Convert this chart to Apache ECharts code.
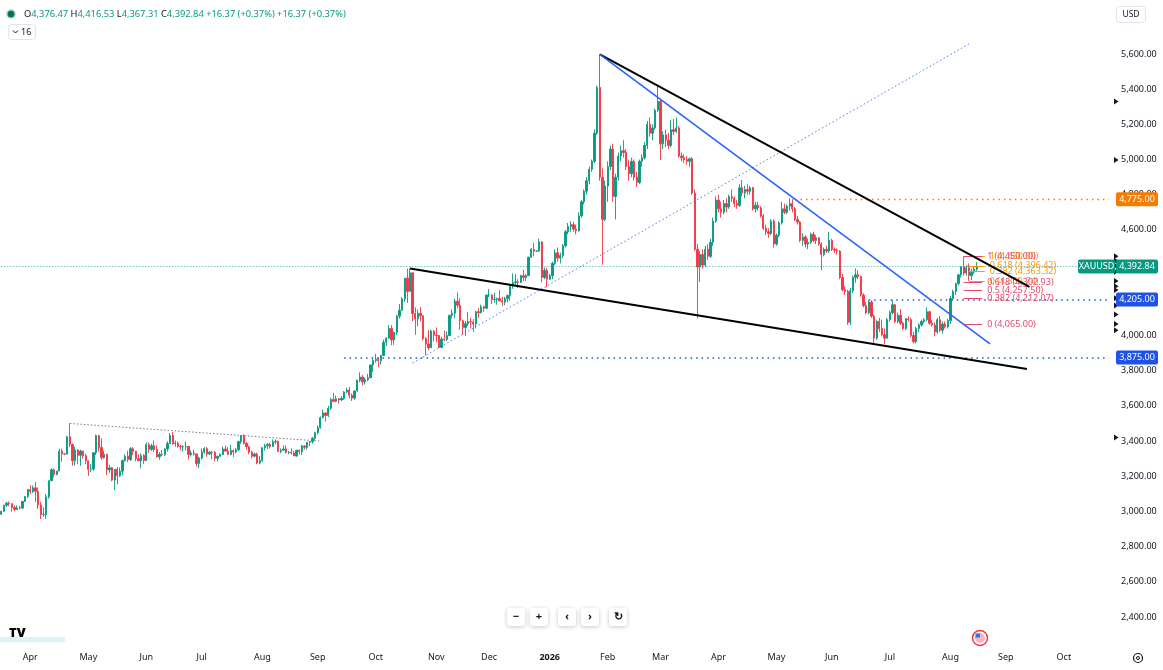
<!DOCTYPE html>
<html><head><meta charset="utf-8">
<script src="https://cdn.jsdelivr.net/npm/echarts@6/dist/echarts.min.js"></script>
<style>html,body{margin:0;padding:0;background:#fff;overflow:hidden}#c{width:1163px;height:670px}</style>
</head><body><div id="c"></div><script>
// ---------- DATA ----------
const startDate = '2025-03-17';
const axisEndDate = '2026-10-26';
const monthNames = ['Jan','Feb','Mar','Apr','May','Jun','Jul','Aug','Sep','Oct','Nov','Dec'];
const yTicks = {min: 2200, max: 5800, step: 200};
// daily candles [open, high, low, close], 2025-03-17 .. 2025-12-31
const candles2025 = [
[2984,3004,2982,3001],[3001,3038,2999,3035],[3035,3055,3026,3047],[3047,3057,3030,3044],[3044,3047,2999,3023],
[3023,3033,3002,3011],[3011,3035,3008,3020],[3020,3033,3012,3019],[3019,3059,3014,3057],[3057,3087,3055,3085],
[3085,3128,3076,3124],[3124,3149,3100,3113],[3113,3148,3105,3134],[3134,3168,3054,3114],[3114,3136,3015,3037],
[3037,3055,2957,2982],[2982,3023,2970,2983],[2983,3099,2957,3083],[3083,3176,3072,3175],[3175,3245,3172,3237],
[3237,3245,3194,3211],[3211,3230,3205,3230],[3230,3357,3228,3343],[3343,3357,3283,3327],[3327,3330,3320,3326],
[3326,3430,3324,3424],[3424,3500,3366,3381],[3381,3386,3260,3288],[3288,3367,3260,3349],[3349,3353,3268,3319],
[3319,3351,3260,3343],[3343,3345,3300,3317],[3317,3328,3268,3288],[3288,3290,3202,3239],[3239,3269,3223,3241],
[3241,3336,3230,3334],[3334,3437,3320,3431],[3431,3435,3340,3364],[3364,3415,3293,3306],[3306,3345,3300,3325],
[3325,3327,3208,3236],[3236,3265,3219,3248],[3248,3252,3171,3178],[3178,3240,3121,3240],[3240,3252,3154,3203],
[3203,3250,3196,3229],[3229,3295,3206,3289],[3289,3325,3283,3314],[3314,3345,3280,3295],[3295,3366,3287,3357],
[3357,3365,3321,3342],[3342,3345,3285,3300],[3300,3325,3287,3288],[3288,3330,3245,3318],[3318,3326,3271,3289],
[3289,3392,3287,3380],[3380,3392,3333,3353],[3353,3385,3343,3373],[3373,3403,3339,3352],[3352,3375,3306,3310],
[3310,3338,3293,3325],[3325,3349,3315,3322],[3322,3360,3315,3355],[3355,3399,3340,3386],[3386,3446,3384,3432],
[3432,3452,3380,3384],[3384,3403,3367,3388],[3388,3397,3362,3370],[3370,3379,3347,3368],[3368,3376,3340,3368],
[3368,3398,3347,3369],[3369,3370,3295,3323],[3323,3347,3312,3332],[3332,3350,3317,3327],[3327,3329,3255,3273],
[3273,3310,3247,3303],[3303,3358,3296,3338],[3338,3365,3328,3357],[3357,3366,3311,3326],[3326,3343,3322,3337],
[3337,3344,3296,3336],[3336,3345,3287,3302],[3302,3317,3283,3313],[3313,3330,3310,3324],[3324,3369,3322,3355],
[3355,3375,3341,3343],[3343,3366,3320,3324],[3324,3377,3319,3347],[3347,3352,3310,3338],[3338,3361,3330,3350],
[3350,3402,3345,3397],[3397,3433,3383,3431],[3431,3438,3381,3387],[3387,3393,3351,3368],[3368,3373,3325,3337],
[3337,3345,3301,3314],[3314,3334,3308,3326],[3326,3334,3268,3275],[3275,3315,3268,3289],[3289,3363,3281,3363],
[3363,3385,3346,3373],[3373,3390,3354,3381],[3381,3390,3358,3369],[3369,3409,3368,3396],[3396,3409,3381,3398],
[3398,3404,3341,3341],[3341,3358,3331,3348],[3348,3375,3347,3355],[3355,3374,3330,3335],[3335,3345,3325,3336],
[3336,3358,3323,3332],[3332,3345,3315,3315],[3315,3351,3311,3348],[3348,3351,3324,3339],[3339,3378,3321,3372],
[3372,3376,3351,3365],[3365,3394,3350,3393],[3393,3399,3371,3397],[3397,3423,3385,3416],[3416,3453,3405,3448],
[3448,3490,3436,3476],[3476,3540,3470,3533],[3533,3578,3528,3560],[3560,3563,3511,3545],[3545,3600,3537,3586],
[3586,3646,3577,3636],[3636,3674,3622,3626],[3626,3658,3620,3640],[3640,3644,3613,3634],[3634,3656,3628,3643],
[3643,3684,3634,3679],[3679,3703,3672,3690],[3690,3708,3642,3660],[3660,3671,3628,3644],[3644,3686,3634,3685],
[3685,3749,3680,3746],[3746,3791,3734,3764],[3764,3776,3717,3736],[3736,3761,3722,3749],[3749,3782,3740,3760],
[3760,3834,3759,3833],[3833,3872,3793,3858],[3858,3895,3845,3865],[3865,3875,3820,3857],[3857,3890,3835,3886],
[3886,3977,3884,3961],[3961,3990,3940,3985],[3985,4060,3980,4040],[4040,4059,3945,3975],[3975,4022,3947,4018],
[4018,4116,4003,4110],[4110,4179,4096,4143],[4143,4218,4140,4208],[4208,4327,4190,4326],[4326,4380,4185,4251],
[4251,4381,4250,4356],[4356,4358,4082,4125],[4125,4160,4004,4095],[4095,4147,4053,4126],[4126,4161,4080,4112],
[4112,4113,3972,3982],[3982,3991,3886,3952],[3952,4030,3917,3930],[3930,4034,3929,4025],[4025,4030,3966,4002],
[4002,4046,3962,4000],[4000,4002,3929,3932],[3932,3994,3930,3980],[3980,4028,3966,3977],[3977,4023,3969,4000],
[4000,4117,3996,4115],[4115,4148,4096,4127],[4127,4210,4097,4195],[4195,4245,4154,4172],[4172,4212,4033,4084],
[4084,4090,4004,4045],[4045,4082,3997,4067],[4067,4132,4054,4078],[4078,4100,4040,4077],[4077,4094,4022,4065],
[4065,4140,4040,4135],[4135,4156,4100,4130],[4130,4175,4125,4163],[4163,4170,4135,4155],[4155,4232,4150,4230],
[4230,4264,4219,4230],[4230,4233,4178,4205],[4205,4242,4186,4205],[4205,4216,4175,4210],[4210,4259,4194,4197],
[4197,4219,4168,4190],[4190,4220,4172,4210],[4210,4232,4188,4228],[4228,4285,4197,4280],[4280,4353,4265,4300],
[4300,4350,4290,4305],[4305,4320,4270,4302],[4302,4345,4298,4340],[4340,4374,4310,4330],[4330,4350,4310,4340],
[4340,4448,4338,4445],[4445,4497,4440,4490],[4490,4526,4450,4480],[4480,4485,4475,4480],[4480,4550,4475,4532],
[4532,4535,4302,4330],[4330,4385,4320,4370],[4370,4385,4275,4320]
];
// daily candles [open, high, low, close], 2026-01-01 .. 2026-08-17
const candles2026 = [
[4320,4350,4315,4340],[4340,4420,4320,4410],
[4410,4490,4400,4470],[4470,4500,4420,4440],[4440,4470,4410,4455],[4455,4520,4440,4510],[4510,4600,4500,4590],
[4590,4640,4575,4620],[4620,4650,4590,4630],[4630,4645,4590,4605],[4605,4630,4575,4595],[4595,4700,4590,4680],
[4680,4770,4670,4760],[4760,4830,4745,4820],[4820,4900,4800,4880],[4880,4960,4860,4945],[4945,5000,4930,4990],
[4990,5170,4980,5150],[5150,5420,5140,5410],[5410,5598,4880,4900],[4900,4950,4402,4660],[4660,4880,4650,4850],
[4850,4990,4760,4960],[4960,5080,4940,5060],[5060,5090,4760,4790],[4790,4920,4660,4900],[4900,5040,4880,5020],
[5020,5080,4990,5050],[5050,5110,5010,5040],[5040,5060,4940,4960],[4960,5000,4880,4920],[4920,5010,4900,4990],
[4990,5000,4880,4900],[4900,4930,4845,4870],[4870,5000,4860,4990],[4990,5030,4960,5010],[5010,5100,5000,5080],
[5080,5220,5060,5200],[5200,5240,5130,5150],[5150,5200,5110,5180],[5180,5290,5170,5280],[5280,5414,5270,5330],
[5330,5340,4997,5090],[5090,5160,5060,5140],[5140,5170,5070,5110],[5110,5150,5060,5080],[5080,5225,5070,5170],
[5170,5230,5140,5160],[5160,5240,5150,5180],[5180,5190,5010,5020],[5020,5040,4990,5010],[5010,5030,4980,5000],
[5000,5020,4970,4990],[4990,5010,4960,5005],[5005,5015,4800,4810],[4810,4830,4480,4490],[4490,4520,4097,4390],
[4390,4480,4305,4460],[4460,4490,4380,4400],[4400,4510,4390,4490],[4490,4520,4430,4450],[4450,4550,4440,4530],
[4530,4670,4510,4650],[4650,4790,4640,4770],[4770,4800,4700,4720],[4720,4760,4670,4700],[4700,4770,4690,4750],
[4750,4780,4700,4730],[4730,4800,4720,4790],[4790,4830,4760,4780],[4780,4790,4730,4750],[4750,4770,4720,4740],
[4740,4860,4730,4840],[4840,4884,4790,4810],[4810,4850,4780,4830],[4830,4860,4800,4820],[4820,4850,4800,4840],
[4840,4845,4710,4720],[4720,4760,4700,4740],[4740,4760,4710,4725],[4725,4735,4670,4680],[4680,4690,4600,4610],
[4610,4630,4570,4590],[4590,4610,4555,4580],[4580,4660,4570,4650],[4650,4660,4500,4520],[4520,4580,4510,4570],
[4570,4650,4560,4640],[4640,4761,4630,4720],[4720,4750,4690,4700],[4700,4745,4690,4735],[4735,4780,4710,4750],
[4750,4775,4700,4720],[4720,4730,4650,4660],[4660,4680,4630,4645],[4645,4650,4530,4540],[4540,4580,4510,4560],
[4560,4570,4500,4520],[4520,4550,4490,4530],[4530,4585,4520,4575],[4575,4590,4530,4540],[4540,4570,4520,4555],
[4555,4560,4510,4520],[4520,4530,4372,4460],[4460,4500,4450,4490],[4490,4510,4470,4480],[4480,4590,4470,4540],
[4540,4550,4480,4490],[4490,4500,4470,4485],[4485,4495,4460,4480],[4480,4485,4320,4330],[4330,4350,4250,4260],
[4260,4280,4230,4250],[4250,4260,4060,4075],[4075,4270,4060,4255],[4255,4340,4240,4330],[4330,4382,4300,4345],
[4345,4370,4320,4335],[4335,4340,4220,4230],[4230,4240,4160,4170],[4170,4190,4120,4130],[4130,4200,4120,4190],
[4190,4200,4100,4110],[4110,4120,3946,3985],[3985,4090,3975,4080],[4080,4100,4020,4040],[4040,4090,3995,4005],
[4005,4040,3950,3985],[3985,4100,3980,4090],[4090,4140,4080,4130],[4130,4202,4120,4175],[4175,4180,4070,4080],
[4080,4130,4070,4115],[4115,4150,4060,4070],[4070,4080,4030,4040],[4040,4100,4030,4095],[4095,4110,4080,4090],
[4090,4100,3990,4000],[4000,4020,3955,3965],[3965,4050,3955,4040],[4040,4070,4020,4060],[4060,4090,4050,4080],
[4080,4100,4070,4090],[4090,4160,4080,4135],[4135,4140,4060,4070],[4070,4090,4050,4060],[4060,4075,3995,4020],
[4020,4100,4010,4090],[4090,4110,4020,4030],[4030,4080,4010,4065],[4065,4080,4040,4050],[4050,4095,4040,4085],
[4085,4225,4065,4210],[4210,4260,4200,4250],[4250,4300,4230,4295],[4295,4350,4285,4345],[4345,4395,4330,4390],
[4390,4450,4340,4355],[4355,4400,4340,4385],[4385,4410,4310,4340],[4340,4380,4315,4360],[4360,4395,4350,4376.47],
[4376.47,4416.53,4367.31,4392.84]
];
const headerValues = {open: 4376.47, high: 4416.53, low: 4367.31, close: 4392.84, change: '+16.37', changePct: '+0.37%'};
// trend lines: [fromDate, fromPrice, toDate, toPrice]
const wedgeLower = ['2025-10-20', 4381, '2026-09-11', 3810];
const wedgeUpper = ['2026-01-28', 5598, '2026-09-14', 4276];
const blueTrend = ['2026-01-28', 5598, '2026-08-24', 3952];
const blueDotted = ['2025-10-21', 3844, '2026-08-12', 5657];
const greyDotted = ['2025-04-22', 3500, '2025-09-02', 3400];
// horizontal levels: [startDate, price]
const level3875 = ['2025-09-15', 3875];
const level4205 = ['2026-06-19', 4205];
const level4775 = ['2026-05-12', 4775];
// fibonacci retracements
const fibPinkLevels = [1, 0.618, 0.5, 0.382, 0];
const fibPinkPrices = [4450.00, 4302.93, 4257.50, 4212.07, 4065.00];
const fibPinkRange = ['2026-08-10', '2026-08-19'];
const fibOrangeLevels = [1, 0.618, 0.382, 0];
const fibOrangePrices = [4450.00, 4396.42, 4363.32, 4309.74];
const fibOrangeRange = ['2026-08-12', '2026-08-20'];
const scaleMarkers = [5330, 4997, 4450, 4425, 4396, 4363, 4310, 4280, 4258, 4212, 4170, 4120, 4065, 4030, 3420];

// ---------- BUILD ----------
function weekdays(from, to){
  const out=[]; const d=new Date(from+'T00:00:00Z'); const end=new Date(to+'T00:00:00Z');
  while(d<=end){ const w=d.getUTCDay(); if(w!==0&&w!==6) out.push(d.toISOString().slice(0,10)); d.setUTCDate(d.getUTCDate()+1); }
  return out;
}
const categories = weekdays(startDate, axisEndDate);
const lastCat = categories[categories.length-1];
const rows = candles2025.concat(candles2026);
const kData = rows.map(r => [r[0], r[3], r[2], r[1]]);
const fmt = v => v.toLocaleString('en-US',{minimumFractionDigits:2, maximumFractionDigits:2});
const UP='#089981', DOWN='#F23645', FONT='"Noto Sans", "Liberation Sans", sans-serif';
const isMonthStart = i => i>0 && categories[i].slice(0,7)!==categories[i-1].slice(0,7);

function seg(arr, color, width, type, opacity){
  return {type:'line', data:[[arr[0],arr[1]],[arr[2],arr[3]]], symbol:'none', silent:true, animation:false,
    lineStyle:{color, width, type, opacity: opacity==null?1:opacity}, z:5};
}
function hLevel(lv, color, width, type){
  return [{coord:[lv[0], lv[1]], lineStyle:{color, width, type}, label:{show:false}}, {coord:[lastCat, lv[1]]}];
}
function fibLines(levels, prices, range, color){
  return levels.map((lv,i)=>[
    {coord:[range[0], prices[i]], lineStyle:{color, width:1, type:'solid'},
     label:{show:true, position:'end', distance:5, color, fontSize:9, fontFamily:FONT, formatter: lv+' ('+fmt(prices[i])+')'}},
    {coord:[range[1], prices[i]]}
  ]);
}

const chart = echarts.init(document.getElementById('c'), null, {renderer:'canvas'});
const option = {
  backgroundColor:'#ffffff',
  animation:false,
  grid:{left:0, right:53, top:18.81, bottom:17.81, containLabel:false},
  xAxis:{type:'category', data:categories, boundaryGap:true,
    axisLine:{show:false}, axisTick:{show:false}, splitLine:{show:false},
    axisLabel:{interval:(i)=>isMonthStart(i), margin:1, fontSize:9, color:'#131722', fontFamily:FONT, hideOverlap:false,
      formatter:(v)=>{ const m=+v.slice(5,7); return m===1 ? '{b|'+v.slice(0,4)+'}' : monthNames[m-1]; },
      rich:{b:{fontWeight:'bold', fontSize:9, color:'#131722', fontFamily:FONT}}}},
  yAxis:{type:'value', position:'right', min:yTicks.min, max:yTicks.max, interval:yTicks.step, scale:false,
    axisLine:{show:false}, axisTick:{show:false}, splitLine:{show:false},
    axisLabel:{margin:11, fontSize:9, color:'#131722', fontFamily:FONT,
      formatter:(v)=> (v===yTicks.min||v===yTicks.max) ? '' : fmt(v)}},
  series:[
    {type:'candlestick', data:kData, barWidth:1.8, z:3,
      itemStyle:{color:UP, color0:DOWN, borderColor:UP, borderColor0:DOWN, borderWidth:0.9},
      markLine:{silent:true, symbol:'none', animation:false,
        data:[
          [{coord:[categories[0], headerValues.close], lineStyle:{color:UP, width:1, type:[1,2], opacity:0.8}, label:{show:false}}, {coord:[lastCat, headerValues.close]}],
          hLevel(level3875, '#1e53e5', 1.6, [1.5,4]),
          hLevel(level4205, '#1e53e5', 1.6, [1.5,4]),
          hLevel(level4775, '#f57c00', 1.4, [1.5,4]),
          ...fibLines(fibOrangeLevels, fibOrangePrices, fibOrangeRange, '#ff9800'),
          ...fibLines(fibPinkLevels, fibPinkPrices, fibPinkRange, '#e5476f')
        ]}},
    seg(greyDotted, '#787b86', 1, [1.5,2]),
    seg(blueDotted, '#2962ff', 1, [1.5,2.5], 0.85),
    seg(wedgeLower, '#000000', 2, 'solid'),
    seg(wedgeUpper, '#000000', 2, 'solid'),
    seg(blueTrend, '#2962ff', 1.6, 'solid')
  ]
};
chart.setOption(option);

// ---------- OVERLAYS (positions from the library's scales) ----------
const yPx = v => chart.convertToPixel({yAxisIndex:0}, v);
const els = [];
function tag(x, w, y, text, bg){
  els.push({type:'rect', shape:{x, y:y-7, width:w, height:14, r:2}, style:{fill:bg}, z:50});
  els.push({type:'text', x:x+w/2, y:y, style:{text, fill:'#fff', font:'9px '+FONT, align:'center', verticalAlign:'middle'}, z:51});
}
scaleMarkers.forEach(p=>{ const y=yPx(p); els.push({type:'polygon', shape:{points:[[1114,y-3],[1118.5,y],[1114,y+3]]}, style:{fill:'#131722'}, z:40}); });
tag(1116, 42, yPx(level4775[1]), fmt(level4775[1]), '#f57c00');
tag(1078, 37, yPx(headerValues.close), 'XAUUSD', UP);
tag(1116, 42, yPx(headerValues.close), fmt(headerValues.close), UP);
tag(1116, 42, yPx(level4205[1]), fmt(level4205[1]), '#1e53e5');
tag(1116, 42, yPx(level3875[1]), fmt(level3875[1]), '#1e53e5');
// header
els.push({type:'circle', shape:{cx:11, cy:14, r:3.5}, style:{fill:'#0a6b52', stroke:'rgba(8,153,129,0.25)', lineWidth:3}, z:60});
els.push({type:'text', x:24, y:14, z:60, style:{
  text:'{l|O}{v|'+fmt(headerValues.open)+'} {l|H}{v|'+fmt(headerValues.high)+'} {l|L}{v|'+fmt(headerValues.low)+'} {l|C}{v|'+fmt(headerValues.close)+'} {v|'+headerValues.change+' ('+headerValues.changePct+')} {v|'+headerValues.change+' ('+headerValues.changePct+')}',
  verticalAlign:'middle', font:'9.3px '+FONT,
  rich:{l:{fill:'#131722', font:'9.3px '+FONT}, v:{fill:UP, font:'9.3px '+FONT}}}});
els.push({type:'rect', shape:{x:8.5, y:24.5, width:27, height:15, r:3}, style:{fill:'#fff', stroke:'#e0e3eb', lineWidth:1}, z:60});
els.push({type:'polyline', shape:{points:[[13,30.5],[15.5,33],[18,30.5]]}, style:{stroke:'#131722', lineWidth:1, fill:null}, z:61});
els.push({type:'text', x:21, y:32.5, style:{text:'16', fill:'#131722', font:'9px '+FONT, verticalAlign:'middle'}, z:61});
els.push({type:'rect', shape:{x:1116.5, y:6.5, width:29, height:16, r:3}, style:{fill:'#fff', stroke:'#e0e3eb', lineWidth:1}, z:60});
els.push({type:'text', x:1131, y:14.5, style:{text:'USD', fill:'#131722', font:'8.5px '+FONT, align:'center', verticalAlign:'middle'}, z:61});
// navigation buttons
[['−',516],['+',539],['‹',567],['›',590],['↻',618]].forEach(([t,cx])=>{
  els.push({type:'rect', shape:{x:cx-9, y:608, width:18, height:18, r:3}, style:{fill:'#fff', shadowBlur:4, shadowColor:'rgba(0,0,0,0.22)', shadowOffsetY:1}, z:60});
  els.push({type:'text', x:cx, y:617, style:{text:t, fill:'#131722', font:'bold 11px '+FONT, align:'center', verticalAlign:'middle'}, z:61});
});
// logo & icons
els.push({type:'rect', shape:{x:0, y:637, width:65, height:5}, style:{fill:'#def3f8'}, z:60});
els.push({type:'text', x:9, y:633, style:{text:'TV', fill:'#000', font:'900 13px '+FONT, verticalAlign:'middle'}, z:61});
els.push({type:'circle', shape:{cx:980, cy:638, r:7.5}, style:{fill:'#fff', stroke:'#f23645', lineWidth:1.5}, z:60});
els.push({type:'circle', shape:{cx:980, cy:638, r:5}, style:{fill:'#f7b6bd'}, z:61});
els.push({type:'rect', shape:{x:975.5, y:633.5, width:4.5, height:4}, style:{fill:'#3d6fe0'}, z:62});
els.push({type:'circle', shape:{cx:1138, cy:658, r:4.5}, style:{fill:'none', stroke:'#131722', lineWidth:1.2}, z:60});
els.push({type:'circle', shape:{cx:1138, cy:658, r:1.5}, style:{fill:'none', stroke:'#131722', lineWidth:1}, z:60});
chart.setOption({graphic:{elements:els}});
</script></body></html>
